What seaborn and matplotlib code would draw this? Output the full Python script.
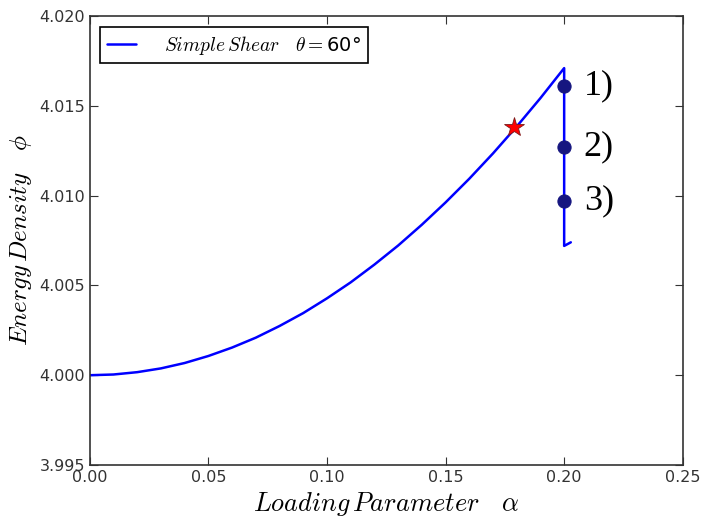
import pandas as pd
import matplotlib
matplotlib.use("Agg")
import matplotlib.pyplot as plt
import seaborn as sns

# curva de energia
alpha = [0.000, 0.010, 0.020, 0.030, 0.040, 0.050, 0.060, 0.070, 0.080, 0.090,
         0.100, 0.110, 0.120, 0.130, 0.140, 0.150, 0.160, 0.170, 0.180, 0.190,
         0.200, 0.200, 0.2028]
phi = [4.00000, 4.00004, 4.00017, 4.00038, 4.00068, 4.00107, 4.00154, 4.00209, 4.00274, 4.00346,
       4.00428, 4.00517, 4.00616, 4.00722, 4.00838, 4.00962, 4.01094, 4.01235, 4.01385, 4.01543,
       4.01710, 4.00720, 4.00740]

# puntos marcados
pt_alpha = [0.1998, 0.1998, 0.1998]
pt_phi = [4.0161, 4.0127, 4.0097]
pt_labels = ["1)", "2)", "3)"]

star_alpha = [0.1788]
star_phi = [4.0138]

df = pd.DataFrame({"alpha": alpha, "phi": phi})
pts = pd.DataFrame({"alpha": pt_alpha, "phi": pt_phi})

sns.set_style("ticks")
plt.rcParams["mathtext.fontset"] = "cm"
plt.rcParams["xtick.direction"] = "in"
plt.rcParams["ytick.direction"] = "in"
plt.rcParams["font.family"] = ["DejaVu Sans"]

fig = plt.figure(figsize=(7.01, 5.27), dpi=100)
ax = fig.add_axes([0.128, 0.1176, 0.846, 0.852])

sns.lineplot(x="alpha", y="phi", data=df, sort=False, estimator=None,
             color="#0000ff", lw=1.8, ax=ax,
             label=r"$Simple\,Shear\quad\theta=$60°")
sns.scatterplot(x="alpha", y="phi", data=pts, color="#161680", s=90,
                edgecolor="#161680", zorder=5, ax=ax, legend=False)
ax.plot(star_alpha, star_phi, marker="*", color="red", markersize=15,
        markeredgecolor="#7a1a1a", markeredgewidth=0.6, linestyle="none", zorder=6)

for a, p, t in zip(pt_alpha, pt_phi, pt_labels):
    ax.text(a + 0.0085, p, t, fontsize=26, family="Liberation Serif",
            va="center", ha="left", color="black")

ax.set_xlim(0, 0.25)
ax.set_ylim(3.995, 4.020)
ax.set_xticks([0.00, 0.05, 0.10, 0.15, 0.20, 0.25])
ax.set_yticks([3.995, 4.000, 4.005, 4.010, 4.015, 4.020])
ax.xaxis.set_major_formatter(matplotlib.ticker.FormatStrFormatter("%.2f"))
ax.yaxis.set_major_formatter(matplotlib.ticker.FormatStrFormatter("%.3f"))
ax.tick_params(top=True, right=True, labelsize=11.5, length=6, color="#333333",
               labelcolor="#333333")
for s in ax.spines.values():
    s.set_linewidth(1.2)
    s.set_color("#333333")

ax.set_xlabel(r"$Loading\,Parameter\quad\alpha$", fontsize=19, color="black")
ax.set_ylabel(r"$Energy\,Density\quad\phi$", fontsize=18, color="black")

leg = ax.legend(loc="upper left", fontsize=14, fancybox=False, handlelength=1.5,
                handletextpad=1.4, borderpad=0.35, borderaxespad=0.55)
leg.get_frame().set_edgecolor("black")
leg.get_frame().set_linewidth(1.2)
leg.get_frame().set_alpha(1)
for t in leg.get_texts():
    t.set_color("black")

plt.savefig("out.png", dpi=100)
